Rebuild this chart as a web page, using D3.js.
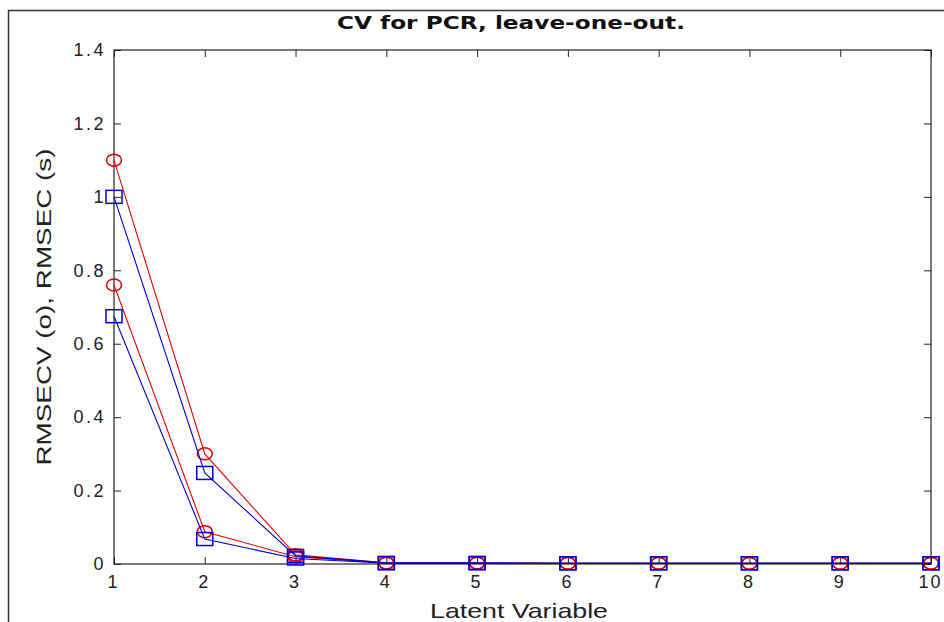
<!DOCTYPE html>
<html><head><meta charset="utf-8">
<script src="https://cdn.jsdelivr.net/npm/d3@7"></script>
<style>
html,body{margin:0;padding:0;background:#fff;}
svg{display:block;}
</style></head>
<body>
<svg id="chart" width="944" height="622"></svg>
<script>
// ---- data ----
const latentVars = [1, 2, 3, 4, 5, 6, 7, 8, 9, 10];
const rmsecvA = [1.10, 0.300, 0.025, 0.003, 0.003, 0.002, 0.002, 0.002, 0.002, 0.002];
const rmsecA  = [1.00, 0.248, 0.022, 0.003, 0.003, 0.002, 0.002, 0.002, 0.002, 0.002];
const rmsecvB = [0.76, 0.088, 0.020, 0.002, 0.002, 0.002, 0.002, 0.002, 0.002, 0.002];
const rmsecB  = [0.675, 0.068, 0.015, 0.002, 0.002, 0.002, 0.002, 0.002, 0.002, 0.002];
const yTicks = [0, 0.2, 0.4, 0.6, 0.8, 1, 1.2, 1.4];
const xTicks = [1, 2, 3, 4, 5, 6, 7, 8, 9, 10];
const titleText = "CV for PCR, leave-one-out.";
const xLabel = "Latent Variable";
const yLabel = "RMSECV (o), RMSEC (s)";

const svg = d3.select("#chart");
const m = {left:114, top:50, right:931, bottom:564};
const x = d3.scaleLinear().domain([1, 10]).range([m.left, m.right]);
const y = d3.scaleLinear().domain([0, 1.4]).range([m.bottom, m.top]);
const RED = "#e00000", BLUE = "#0000d8", INK = "#222";
const FONT = "'Liberation Sans', Arial, sans-serif";

// outer figure frame (cropped)
svg.append("rect").attr("x", 8.5).attr("y", 10.5).attr("width", 980).attr("height", 660)
  .attr("fill", "none").attr("stroke", "#333").attr("stroke-width", 1.5);

// axes
function styleAxis(g){
  g.selectAll(".domain").remove();
  g.selectAll("line").attr("stroke", INK);
  g.selectAll("text").attr("fill", INK).attr("font-family", FONT)
    .attr("font-size", 18).attr("letter-spacing", 2.5);
}
svg.append("g").attr("transform", `translate(0,${m.bottom})`)
  .call(d3.axisBottom(x).tickValues(xTicks).tickFormat(d3.format("d")).tickSizeInner(-7).tickSizeOuter(0).tickPadding(11))
  .call(styleAxis)
  .call(g => g.selectAll("text").attr("letter-spacing", 2).attr("dx", -1));
svg.append("g").attr("transform", `translate(0,${m.top})`)
  .call(d3.axisTop(x).tickValues(xTicks).tickFormat("").tickSizeInner(-7).tickSizeOuter(0))
  .call(styleAxis);
svg.append("g").attr("transform", `translate(${m.left},0)`)
  .call(d3.axisLeft(y).tickValues(yTicks).tickFormat(d => d3.format("")(+d.toFixed(1))).tickSizeInner(-7).tickSizeOuter(0).tickPadding(8))
  .call(styleAxis);
svg.append("g").attr("transform", `translate(${m.right},0)`)
  .call(d3.axisRight(y).tickValues(yTicks).tickFormat("").tickSizeInner(-7).tickSizeOuter(0))
  .call(styleAxis);

// axes box
svg.append("rect").attr("x", m.left).attr("y", m.top)
  .attr("width", m.right - m.left).attr("height", m.bottom - m.top)
  .attr("fill", "none").attr("stroke", INK).attr("stroke-width", 1.2);

// series
const line = d3.line().x((d, i) => x(latentVars[i])).y(d => y(d));
function drawSeries(vals, color, marker){
  svg.append("path").datum(vals).attr("d", line)
    .attr("fill", "none").attr("stroke", color).attr("stroke-width", 1.1);
  const g = svg.append("g");
  vals.forEach((v, i) => {
    const cx = x(latentVars[i]), cy = y(v);
    if (marker === "o") {
      g.append("ellipse").attr("cx", cx).attr("cy", cy).attr("rx", 7.5).attr("ry", 6)
        .attr("fill", "none").attr("stroke", color).attr("stroke-width", 1.5);
    } else {
      g.append("rect").attr("x", cx - 8).attr("y", cy - 6.5).attr("width", 16).attr("height", 13)
        .attr("fill", "none").attr("stroke", color).attr("stroke-width", 1.5);
    }
  });
}
drawSeries(rmsecvA, RED, "o");
drawSeries(rmsecvB, RED, "o");
drawSeries(rmsecA, BLUE, "s");
drawSeries(rmsecB, BLUE, "s");

// title and labels
svg.append("text").attr("x", 511).attr("y", 29).attr("text-anchor", "middle")
  .attr("font-family", "'DejaVu Sans', Verdana, sans-serif").attr("font-weight", "bold")
  .attr("font-size", 17).attr("fill", "#111")
  .attr("textLength", 348).attr("lengthAdjust", "spacingAndGlyphs").text(titleText);
svg.append("text").attr("x", 519).attr("y", 618).attr("text-anchor", "middle")
  .attr("font-family", FONT).attr("font-size", 21).attr("fill", INK)
  .attr("textLength", 178).attr("lengthAdjust", "spacingAndGlyphs").text(xLabel);
svg.append("text").attr("transform", `translate(51,${(m.top + m.bottom) / 2}) rotate(-90)`)
  .attr("text-anchor", "middle")
  .attr("font-family", FONT).attr("font-size", 21).attr("fill", INK)
  .attr("textLength", 317).attr("lengthAdjust", "spacingAndGlyphs").text(yLabel);
</script>
</body></html>
